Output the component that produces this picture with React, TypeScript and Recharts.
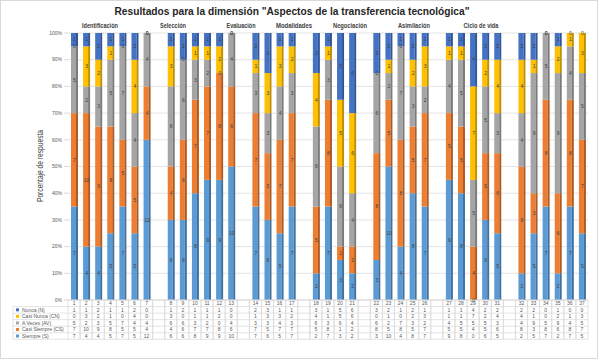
import React from 'react';
import { BarChart, Bar, XAxis, YAxis, CartesianGrid, LabelList } from 'recharts';

const questions = [
  '1', '2', '3', '4', '5', '6', '7', '8', '9', '10', '11', '12', '13', '14', '15', '16', '17', '18', '19',
  '20', '21', '22', '23', '24', '25', '26', '27', '28', '29', '30', '31', '32', '33', '34', '35', '36', '37',
];
const groupNames = ['Identificación', 'Selección', 'Evaluación', 'Modalidades', 'Negociación', 'Asimilación', 'Ciclo de vida'];
const groupSizes = [7, 6, 4, 4, 5, 5, 6];

const nunca = [1, 1, 2, 1, 1, 2, 0, 1, 2, 1, 1, 1, 0, 2, 3, 1, 1, 3, 1, 5, 6, 3, 2, 1, 2, 1, 1, 1, 4, 2, 2, 2, 2, 0, 1, 0, 0];
const casiNunca = [0, 3, 2, 1, 0, 4, 0, 3, 0, 1, 1, 2, 0, 1, 3, 3, 2, 4, 1, 5, 6, 0, 1, 0, 2, 3, 1, 1, 7, 2, 4, 4, 1, 0, 2, 1, 3];
const aVeces = [5, 2, 3, 5, 7, 4, 4, 6, 6, 3, 2, 0, 4, 3, 3, 4, 3, 6, 3, 6, 4, 6, 2, 7, 3, 2, 4, 5, 5, 5, 3, 4, 9, 5, 9, 4, 5];
const casiSiempre = [7, 10, 9, 8, 5, 5, 4, 4, 6, 7, 7, 8, 6, 7, 5, 7, 7, 5, 8, 1, 2, 8, 5, 8, 5, 7, 5, 5, 4, 5, 6, 8, 3, 8, 6, 8, 7];
const siempre = [7, 4, 4, 5, 7, 5, 12, 6, 6, 8, 9, 9, 10, 7, 6, 5, 7, 2, 7, 3, 2, 3, 10, 4, 8, 7, 9, 8, 0, 6, 5, 2, 5, 7, 2, 7, 5];

const yTicks = [0, 0.1, 0.2, 0.3, 0.4, 0.5, 0.6, 0.7, 0.8, 0.9, 1];

// stacking order, bottom to top
const series = [
  { key: 'S', name: 'Siempre (S)', color: '#5B9BD5', side: '#41719C' },
  { key: 'CS', name: 'Casi Siempre (CS)', color: '#ED7D31', side: '#AE5A21' },
  { key: 'AV', name: 'A Veces (AV)', color: '#A5A5A5', side: '#7B7B7B' },
  { key: 'CN', name: 'Casi Nunca (CN)', color: '#FFC000', side: '#BF9000' },
  { key: 'N', name: 'Nunca (N)', color: '#4472C4', side: '#2F5597' },
];
const tableOrder = [...series].reverse();

const rows: any[] = [];
let q = 0;
groupSizes.forEach((n, g) => {
  for (let i = 0; i < n; i++, q++) {
    rows.push({ name: questions[q], N: nunca[q], CN: casiNunca[q], AV: aVeces[q], CS: casiSiempre[q], S: siempre[q] });
  }
  if (g < groupSizes.length - 1) rows.push({ name: `gap${g}`, gap: true });
});
const rowByName: Record<string, any> = {};
rows.forEach((r) => (rowByName[r.name] = r));

const W = 600;
const H = 359;
const LEFT = 68;
const RIGHT = 12;
const TOP = 33;
const PLOT_BOTTOM = 300;
const STEP = (W - LEFT - RIGHT) / rows.length;
const ROW_H = 6.55;
const FONT = "'Liberation Sans', Arial, sans-serif";
const GRID = '#D9D9D9';
const TXT = '#595959';

const Bar3D = (props: any) => {
  const { x, y, width, height, fill, side } = props;
  if (!height || height <= 0 || isNaN(y)) return null;
  return (
    <g>
      <rect x={x} y={y} width={width - 2} height={height} fill={fill} />
      <rect x={x + width - 2} y={y} width={2} height={height} fill={side} />
    </g>
  );
};

const TableTick = (props: any) => {
  const { x, payload } = props;
  const row = rowByName[payload.value];
  const l = x - STEP / 2;
  const r = x + STEP / 2;
  const bottom = PLOT_BOTTOM + ROW_H * 6;
  return (
    <g>
      <line x1={l} x2={l} y1={PLOT_BOTTOM} y2={bottom} stroke={GRID} strokeWidth={0.7} />
      <line x1={r} x2={r} y1={PLOT_BOTTOM} y2={bottom} stroke={GRID} strokeWidth={0.7} />
      {!row?.gap && (
        <text x={x} y={PLOT_BOTTOM + ROW_H / 2} textAnchor="middle" dominantBaseline="central" fontSize={5} fill={TXT}>
          {payload.value}
        </text>
      )}
      {!row?.gap &&
        tableOrder.map((s, i) => (
          <text key={s.key} x={x} y={PLOT_BOTTOM + ROW_H * (i + 1.5)} textAnchor="middle" dominantBaseline="central" fontSize={5} fill={TXT}>
            {row[s.key]}
          </text>
        ))}
    </g>
  );
};

// hand placed text boxes in the original
const groupLabels = [
  { x: 100, w: 36 },
  { x: 173, w: 26 },
  { x: 241, w: 29 },
  { x: 294, w: 36 },
  { x: 350, w: 34 },
  { x: 414, w: 32 },
  { x: 481, w: 35 },
];

export default function App() {
  return (
    <div style={{ position: 'absolute', left: 0, top: 0, width: W, height: H, background: '#fff', fontFamily: FONT }}>
      <BarChart
        width={W}
        height={H}
        data={rows}
        stackOffset="expand"
        barSize={7}
        margin={{ top: TOP, right: RIGHT, bottom: 13, left: 0 }}
      >
        <CartesianGrid vertical={false} stroke={GRID} strokeWidth={0.7} />
        <XAxis
          dataKey="name"
          interval={0}
          height={46}
          tickLine={false}
          axisLine={{ stroke: GRID }}
          tick={<TableTick />}
        />
        <YAxis
          width={LEFT}
          domain={[0, 1]}
          ticks={yTicks}
          tickFormatter={(v: number) => `${Math.round(v * 100)}%`}
          tick={{ fontSize: 5, fill: TXT }}
          tickSize={4}
          tickMargin={2}
          tickLine={{ stroke: GRID }}
          axisLine={false}
        />
        {series.map((s) => (
          <Bar
            key={s.key}
            dataKey={s.key}
            name={s.name}
            stackId="a"
            fill={s.color}
            isAnimationActive={false}
            shape={(p: any) => <Bar3D {...p} side={s.side} />}
          >
            <LabelList
              dataKey={s.key}
              position="center"
              fontSize={5}
              fill="#404040"
              formatter={(v: any) => (v === undefined || v === null ? '' : v)}
            />
          </Bar>
        ))}
      </BarChart>
      <svg width={W} height={H} style={{ position: 'absolute', left: 0, top: 0, pointerEvents: 'none' }}>
        <rect x={0.5} y={0.5} width={W - 3} height={H - 1} fill="none" stroke={GRID} />
        <text x={292} y={15} textAnchor="middle" fontSize={11.5} fontWeight="bold" fill="#262626" textLength={355} lengthAdjust="spacingAndGlyphs">
          Resultados para la dimensión "Aspectos de la transferencia tecnológica"
        </text>
        {groupNames.map((g, i) => (
          <text key={g} x={groupLabels[i].x} y={27.5} textAnchor="middle" fontSize={6.5} fontWeight="bold" fill="#404040" textLength={groupLabels[i].w} lengthAdjust="spacingAndGlyphs">
            {g}
          </text>
        ))}
        <text x={43} y={166} transform="rotate(-90 43 166)" textAnchor="middle" fontSize={9} fill="#404040" textLength={72} lengthAdjust="spacingAndGlyphs">
          Porcentaje de respuesta
        </text>
        {[1, 2, 3, 4, 5, 6].map((i) => (
          <line key={i} x1={13} x2={W - RIGHT} y1={PLOT_BOTTOM + ROW_H * i} y2={PLOT_BOTTOM + ROW_H * i} stroke={GRID} strokeWidth={0.7} />
        ))}
        <line x1={13} x2={13} y1={PLOT_BOTTOM + ROW_H} y2={PLOT_BOTTOM + ROW_H * 6} stroke={GRID} strokeWidth={0.7} />
        {tableOrder.map((s, i) => (
          <g key={s.key}>
            <rect x={16} y={PLOT_BOTTOM + ROW_H * (i + 1.5) - 1.5} width={3} height={3} fill={s.color} />
            <text x={22} y={PLOT_BOTTOM + ROW_H * (i + 1.5)} dominantBaseline="central" fontSize={5} fill={TXT}>
              {s.name}
            </text>
          </g>
        ))}
      </svg>
    </div>
  );
}
